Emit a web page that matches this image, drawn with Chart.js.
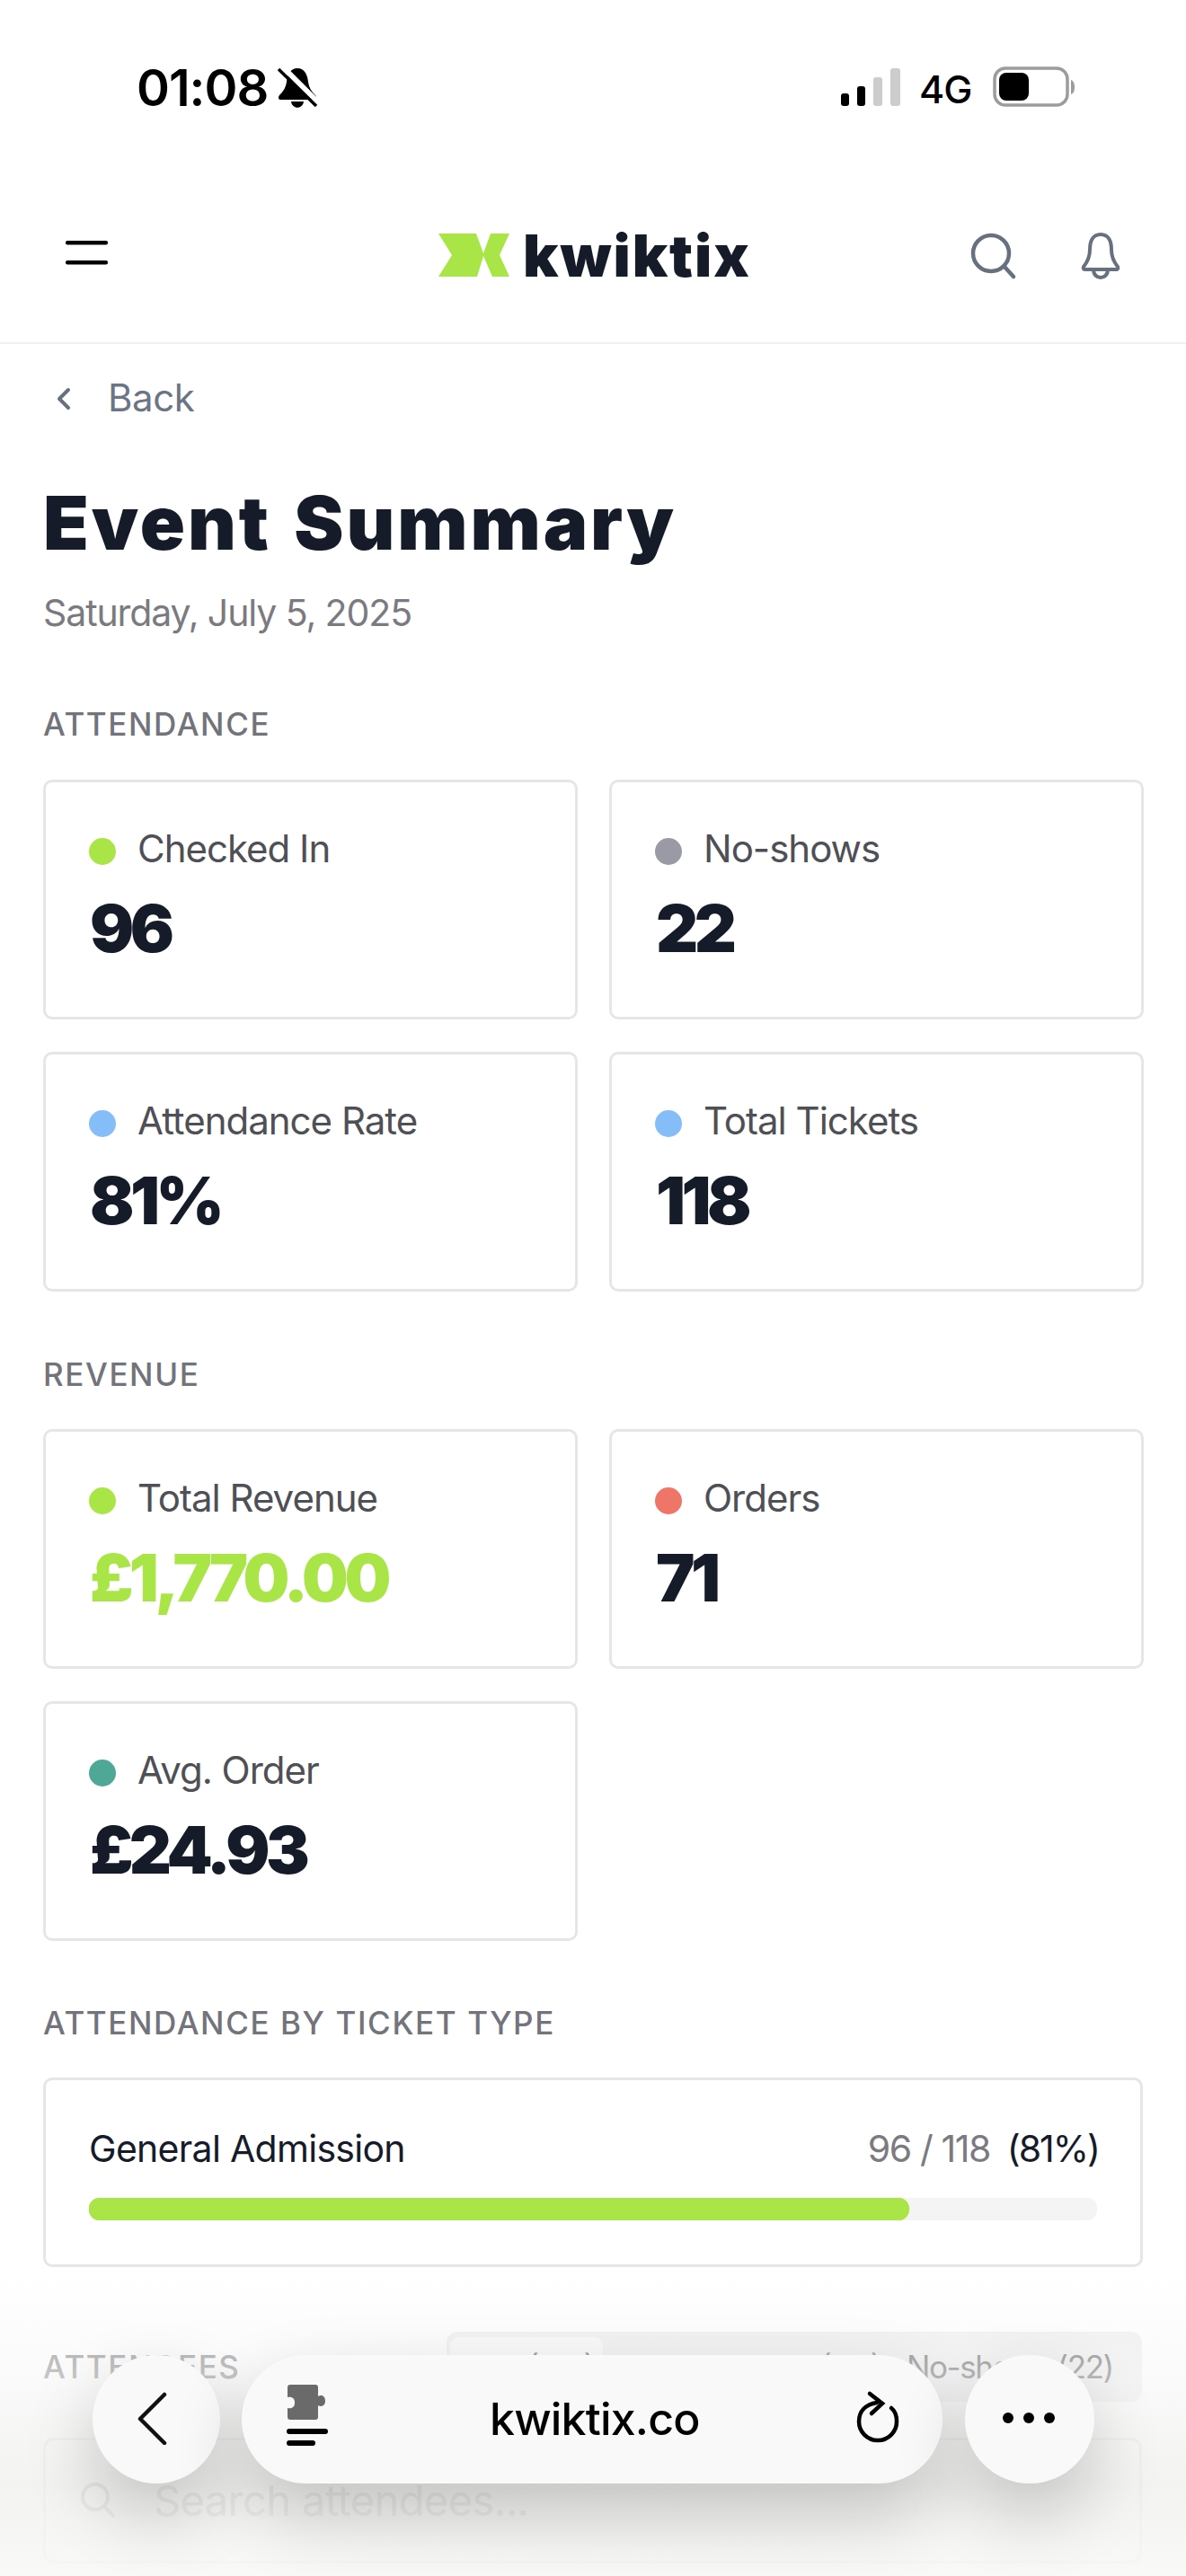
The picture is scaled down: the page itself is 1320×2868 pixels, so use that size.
<!DOCTYPE html>
<html>
<head>
<meta charset="utf-8">
<title>Event Summary</title>
<script src="https://cdn.jsdelivr.net/npm/chart.js@4"></script>
<style>
  html, body { margin: 0; padding: 0; background: #fff; }
  #page { position: relative; width: 1320px; height: 2868px; overflow: hidden; background: #fff; font-family: Inter, "Noto Sans", sans-serif; color: #151b28; }
  #page > * { position: absolute; white-space: nowrap; }
  .line { line-height: 1; transform: translateY(-50%); }
  .section { left: 48px; font-size: 35px; font-weight: 500; letter-spacing: 1.6px; color: #73737c; }
  .card { box-sizing: border-box; width: 595px; height: 267px; border: 3px solid #e6e6e6; border-radius: 10px; background: #fff; }
  .card .dot { position: absolute; left: 48px; top: 62px; width: 30px; height: 30px; border-radius: 50%; }
  .card .label { position: absolute; left: 102px; top: 51px; font-size: 42px; line-height: 46px; letter-spacing: -1px; color: #4f4f56; white-space: nowrap; }
  .card .value { position: absolute; left: 49px; top: 119px; font-size: 73px; line-height: 88px; font-weight: 900; letter-spacing: -4.5px; white-space: nowrap; }
  #progress { left: 99px; top: 2447px; width: 1122px; height: 25px; }
  .pill { background: #f9f9f9; box-shadow: 0 34px 80px rgba(0,0,0,.2); }
</style>
</head>
<body>
<div id="page">
  <!-- status bar -->
  <div class="line" style="left:152px;top:98px;font-size:56px;font-weight:600;letter-spacing:-1px;color:#000">01:08</div>
  <svg style="left:306px;top:74px" width="50" height="48" viewBox="0 0 50 48">
    <path d="M25 2c-8 0-11 7-12 15-1 7-4 11-8 15-2 3-1 5 2 5h36c3 0 4-2 2-5-4-4-7-8-8-15-1-8-4-15-12-15z" fill="#000"/>
    <path d="M18 39c1 9 13 9 14 0z" fill="#000"/>
    <path d="M8 0l42 42" stroke="#fff" stroke-width="6"/><path d="M4 3l42 41" stroke="#000" stroke-width="3.5"/>
  </svg>
  <svg style="left:936px;top:76px" width="68" height="42" viewBox="0 0 68 42">
    <rect x="0" y="28" width="9" height="14" rx="3" fill="#000"/>
    <rect x="18" y="20" width="9" height="22" rx="3" fill="#000"/>
    <rect x="36" y="10" width="10" height="32" rx="3" fill="#ccc"/>
    <rect x="55" y="0" width="11" height="42" rx="3" fill="#ccc"/>
  </svg>
  <div class="line" style="left:1023px;top:99px;font-size:43px;font-weight:500;letter-spacing:-1px;color:#000">4G</div>
  <svg style="left:1105px;top:74px" width="92" height="46" viewBox="0 0 92 46">
    <rect x="2" y="2" width="81" height="41" rx="12" fill="none" stroke="#9c9c9c" stroke-width="3.5"/>
    <rect x="7" y="7" width="33" height="31" rx="8" fill="#000"/>
    <path d="M87 15c3 1 4 4 4 8s-1 7-4 8z" fill="#9c9c9c"/>
  </svg>

  <!-- header -->
  <svg style="left:71px;top:266px" width="52" height="32" viewBox="0 0 52 32">
    <rect x="2" y="2" width="47" height="4.5" rx="2" fill="#000"/><rect x="2" y="24" width="47" height="4.5" rx="2" fill="#000"/>
  </svg>
  <svg style="left:488px;top:260px" width="80" height="48" viewBox="0 0 80 48">
    <path d="M0 0H42L50 22 58 0H79L68 24 79 48H60L50 25 43 48H0L15 24z" fill="#a9e546"/>
  </svg>
  <div class="line" style="left:582px;top:284px;font-size:65px;font-weight:900;letter-spacing:2px">kwiktix</div>
  <svg style="left:1079px;top:258px" width="54" height="54" viewBox="0 0 54 54">
    <circle cx="24" cy="24" r="20" fill="none" stroke="#66707f" stroke-width="4.5"/><path d="M39 39l10 11" stroke="#66707f" stroke-width="4.5" stroke-linecap="round"/>
  </svg>
  <svg style="left:1199px;top:258px" width="52" height="54" viewBox="0 0 52 54">
    <path d="M26 3c-9 0-12 8-12 17 0 9-3 14-7 19-1 2 0 3 2 3h34c2 0 3-1 2-3-4-5-7-10-7-19 0-9-3-17-12-17z" fill="none" stroke="#66707f" stroke-width="4"/>
    <path d="M18 42c0 12 16 12 16 0" fill="none" stroke="#66707f" stroke-width="4"/>
  </svg>
  <div style="left:0;top:381px;width:1320px;height:2px;background:#f0f0f0"></div>

  <svg style="left:60px;top:431px" width="22" height="26" viewBox="0 0 22 26">
    <path d="M16 3L6 13l10 10" fill="none" stroke="#66707f" stroke-width="4" stroke-linecap="round" stroke-linejoin="round"/>
  </svg>
  <div class="line" style="left:120px;top:443px;font-size:42px;letter-spacing:-.4px;color:#6b7585">Back</div>
  <div class="line" style="left:48px;top:582px;font-size:83px;font-weight:900;letter-spacing:2.9px;word-spacing:6px">Event Summary</div>
  <div class="line" style="left:48px;top:682px;font-size:41px;letter-spacing:-1.1px;color:#7a7a80">Saturday, July 5, 2025</div>

  <div class="line section" style="top:806px">ATTENDANCE</div>
  <div class="line section" style="top:1530px">REVENUE</div>
  <div class="line section" style="top:2252px">ATTENDANCE BY TICKET TYPE</div>

  <!-- ticket type card -->
  <div class="card" style="left:48px;top:2313px;width:1224px;height:211px"></div>
  <div class="line" id="ticketName" style="left:99px;top:2392px;font-size:41px;letter-spacing:-.7px"></div>
  <div class="line" id="ticketCount" style="right:218px;top:2392px;font-size:41px;letter-spacing:-1.4px;color:#7a7a80"></div>
  <div class="line" id="ticketRate" style="right:97px;top:2392px;font-size:41px;letter-spacing:-2px"></div>
  <div id="progress"><canvas id="progressChart"></canvas></div>

  <!-- attendees section, sits behind the browser toolbar -->
  <div class="line section" style="top:2635px;color:#8e8e8e">ATTENDEES</div>
  <div style="left:497px;top:2596px;width:774px;height:78px;border-radius:12px;background:#f0f0f0"></div>
  <div style="left:501px;top:2602px;width:170px;height:66px;border-radius:10px;background:#fbfbfb"></div>
  <div class="line" style="left:536px;top:2635px;font-size:35px;color:#666">All (118)</div>
  <div class="line" style="left:716px;top:2635px;font-size:35px;color:#777">Checked In (96)</div>
  <div class="line" style="left:1009px;top:2635px;font-size:35px;letter-spacing:-1.4px;color:#6f6f6f">No-shows (22)</div>
  <div style="box-sizing:border-box;left:48px;top:2714px;width:1223px;height:140px;border:3px solid #eeeeee;border-radius:12px"></div>
  <svg style="left:88px;top:2762px" width="44" height="44" viewBox="0 0 44 44">
    <circle cx="18" cy="18" r="14" fill="none" stroke="#cfcfcf" stroke-width="4"/><path d="M28 28l11 12" stroke="#cfcfcf" stroke-width="4"/>
  </svg>
  <div class="line" style="left:171px;top:2783px;font-size:47px;letter-spacing:-.6px;color:#d0d0d0">Search attendees...</div>

  <!-- fade behind toolbar -->
  <div style="left:0;top:2530px;width:1320px;height:338px;background:linear-gradient(180deg,rgba(255,255,255,0) 0%,rgba(246,246,246,.55) 35%,rgba(238,238,236,.72) 70%,rgba(248,248,246,.88) 100%)"></div>

  <!-- browser toolbar -->
  <div class="pill" style="left:103px;top:2622px;width:142px;height:143px;border-radius:50%"></div>
  <div class="pill" style="left:269px;top:2622px;width:780px;height:143px;border-radius:72px"></div>
  <div class="pill" style="left:1074px;top:2622px;width:144px;height:143px;border-radius:50%"></div>
  <svg style="left:150px;top:2662px" width="40" height="60" viewBox="0 0 40 60">
    <path d="M33 3L6 30l27 27" fill="none" stroke="#111" stroke-width="4.5" stroke-linecap="round" stroke-linejoin="round" transform="translate(0 1)"/>
  </svg>
  <svg style="left:316px;top:2652px" width="54" height="74" viewBox="0 0 54 74">
    <path d="M4 6c0-2 1-3 3-3h28c2 0 3 1 3 3v10c3-2 8-1 8 5s-5 7-8 5v13c0 2-1 3-3 3H7c-2 0-3-1-3-3V29c5 1 8-1 8-6s-3-7-8-6z" fill="#6a6a6a"/>
    <rect x="3" y="52" width="46" height="6" rx="3" fill="#000"/><rect x="3" y="65" width="32" height="6" rx="3" fill="#000"/>
  </svg>
  <div class="line" style="left:545px;top:2693px;font-size:50px;font-weight:500;letter-spacing:-.8px;color:#000">kwiktix.co</div>
  <svg style="left:950px;top:2660px" width="56" height="62" viewBox="0 0 56 62">
    <path d="M26 16c-13 2-20 10-20 21a21 21 0 0 0 42 0c0-7-2-12-6-15" fill="none" stroke="#000" stroke-width="4.5" stroke-linecap="round" transform="translate(0 -1)"/>
    <path d="M18 5l14 11-12 11" fill="none" stroke="#000" stroke-width="4.5" stroke-linecap="round"/>
  </svg>
  <svg style="left:1112px;top:2680px" width="66" height="24" viewBox="0 0 66 24">
    <circle cx="10" cy="12" r="6" fill="#000"/><circle cx="33" cy="12" r="6" fill="#000"/><circle cx="56" cy="12" r="6" fill="#000"/>
  </svg>
</div>

<script>
  // stat cards
  const attendanceLabels = ["Checked In", "No-shows", "Attendance Rate", "Total Tickets"];
  const attendanceValues = ["96", "22", "81%", "118"];
  const attendanceColors = ["#a9e546", "#9a9aa6", "#85bdf9", "#85bdf9"];

  const revenueLabels = ["Total Revenue", "Orders", "Avg. Order"];
  const revenueValues = ["£1,770.00", "71", "£24.93"];
  const revenueColors = ["#a9e546", "#ef7568", "#4fa896"];

  // attendance by ticket type
  const ticketTypes = ["General Admission"];
  const ticketsCheckedIn = [96];
  const ticketsTotal = [118];

  const page = document.getElementById("page");

  const addCards = (labels, values, colors, tops, valueColors) => {
    labels.forEach((label, i) => {
      const card = document.createElement("div");
      card.className = "card";
      card.style.left = (i % 2 ? 678 : 48) + "px";
      card.style.top = tops[Math.floor(i / 2)] + "px";
      card.innerHTML =
        `<span class="dot" style="background:${colors[i]}"></span>` +
        `<span class="label">${label}</span>` +
        `<span class="value" style="color:${valueColors[i] || "#151b28"}">${values[i]}</span>`;
      page.appendChild(card);
    });
  };
  addCards(attendanceLabels, attendanceValues, attendanceColors, [868, 1171], []);
  addCards(revenueLabels, revenueValues, revenueColors, [1591, 1894], ["#a9e546"]);

  document.getElementById("ticketName").textContent = ticketTypes[0];
  document.getElementById("ticketCount").textContent = `${ticketsCheckedIn[0]} / ${ticketsTotal[0]}`;
  document.getElementById("ticketRate").textContent = `(${Math.round(ticketsCheckedIn[0] / ticketsTotal[0] * 100)}%)`;

  new Chart(document.getElementById("progressChart"), {
    type: "bar",
    data: {
      labels: ticketTypes,
      datasets: [
        {
          data: ticketsCheckedIn,
          backgroundColor: "#a9e546",
          borderRadius: 13,
          borderSkipped: false,
          grouped: false,
          order: 1,
        },
        {
          data: ticketsTotal,
          backgroundColor: "#f4f4f4",
          borderRadius: 13,
          borderSkipped: false,
          grouped: false,
          order: 2,
        },
      ],
    },
    options: {
      indexAxis: "y",
      responsive: true,
      maintainAspectRatio: false,
      animation: false,
      barPercentage: 1,
      categoryPercentage: 1,
      plugins: {
        legend: { display: false },
        tooltip: { enabled: false },
      },
      scales: {
        x: { display: false, min: 0, max: ticketsTotal[0] },
        y: { display: false },
      },
    },
  });
</script>
</body>
</html>
